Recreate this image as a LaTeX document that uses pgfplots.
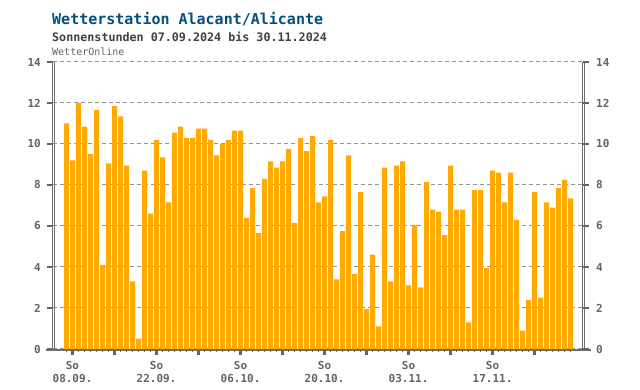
\documentclass[border=0pt]{standalone}
\usepackage{fontspec}
\setmainfont{DejaVu Sans Mono}
\setmonofont{DejaVu Sans Mono}
\usepackage{pgfplots}
\pgfplotsset{compat=1.18}
\usepackage{pgfplotstable}
\definecolor{barc}{RGB}{255,170,0}
\definecolor{ttl}{RGB}{0,80,128}
\definecolor{subc}{RGB}{64,64,64}
\definecolor{lab}{RGB}{100,100,100}
\definecolor{grd}{RGB}{150,150,150}
\definecolor{frm}{RGB}{110,110,110}

\pgfplotstableread{
d v
0 11.0
1 9.2
2 12.0
3 10.85
4 9.5
5 11.65
6 4.1
7 9.05
8 11.85
9 11.35
10 8.95
11 3.3
12 0.5
13 8.7
14 6.6
15 10.2
16 9.35
17 7.15
18 10.55
19 10.85
20 10.3
21 10.3
22 10.75
23 10.75
24 10.2
25 9.45
26 10.0
27 10.2
28 10.65
29 10.65
30 6.4
31 7.85
32 5.65
33 8.3
34 9.15
35 8.85
36 9.15
37 9.75
38 6.15
39 10.3
40 9.65
41 10.4
42 7.15
43 7.45
44 10.2
45 3.4
46 5.75
47 9.45
48 3.65
49 7.65
50 1.95
51 4.6
52 1.1
53 8.85
54 3.3
55 8.95
56 9.15
57 3.1
58 6.05
59 3.0
60 8.15
61 6.8
62 6.7
63 5.55
64 8.95
65 6.8
66 6.8
67 1.3
68 7.75
69 7.75
70 3.95
71 8.7
72 8.6
73 7.15
74 8.6
75 6.3
76 0.9
77 2.4
78 7.65
79 2.5
80 7.15
81 6.9
82 7.85
83 8.25
84 7.35
}\sun

\begin{document}
\begin{tikzpicture}[x=1pt,y=1pt]
\path[use as bounding box] (0,0) rectangle (640,390);
\node[anchor=base west, inner sep=0pt, text=ttl, font=\fontsize{15}{18}\selectfont\bfseries] at (52,365) {Wetterstation Alacant/Alicante};
\node[anchor=base west, inner sep=0pt, text=subc, font=\fontsize{11.7}{14}\selectfont\bfseries] at (52,348) {Sonnenstunden 07.09.2024 bis 30.11.2024};
\node[anchor=base west, inner sep=0pt, text=lab, font=\fontsize{10}{12}\selectfont] at (52,334) {WetterOnline};

\begin{axis}[
  at={(53pt,41pt)}, anchor=south west, scale only axis,
  width=530pt, height=287pt,
  xmin=-2.25, xmax=86.08, ymin=0, ymax=14,
  clip=false,
  axis line style={draw=none},
  ytick={0,2,...,14}, ytick pos=left,
  xtick={1,8,15,22,29,36,43,50,57,64,71,78},
  xticklabels={{So\\08.09.},{},{So\\22.09.},{},{So\\06.10.},{},{So\\20.10.},{},{So\\03.11.},{},{So\\17.11.},{}},
  minor xtick={0,...,84},
  xtick pos=bottom,
  tick align=outside,
  major tick length=6pt, minor tick length=3pt,
  major tick style={line width=2.4pt, draw=lab},
  minor tick style={line width=0.8pt, draw=lab},
  ymajorgrids,
  major grid style={dash pattern=on 4pt off 3pt, draw=grd, line width=1pt},
  /pgf/number format/assume math mode=true,
  yticklabel style={font=\fontsize{11}{13}\selectfont\bfseries, text=lab, inner sep=0pt, xshift=-6pt},
  xticklabel style={font=\fontsize{11}{13}\selectfont\bfseries, text=lab, align=center, inner sep=0pt, yshift=-6pt},
]
\addplot[ybar, bar width=5pt, fill=barc, draw=none, bar shift=0pt] table[x=d, y=v] {\sun};
\draw[frm, line width=2.5pt] ([xshift=-7pt, yshift=-1pt]rel axis cs:0,0) -- ([xshift=8pt, yshift=-1pt]rel axis cs:1,0);
\draw[frm, line width=0.8pt] ([xshift=-1pt]rel axis cs:0,0) -- ([xshift=-1pt]rel axis cs:0,1);
\draw[frm, line width=0.8pt] ([xshift=1pt]rel axis cs:0,0) -- ([xshift=1pt]rel axis cs:0,1);
\draw[frm, line width=0.8pt] ([xshift=-1pt]rel axis cs:1,0) -- ([xshift=-1pt]rel axis cs:1,1);
\draw[frm, line width=0.8pt] ([xshift=1pt]rel axis cs:1,0) -- ([xshift=1pt]rel axis cs:1,1);
\end{axis}

\begin{axis}[
  at={(53pt,41pt)}, anchor=south west, scale only axis,
  width=530pt, height=287pt,
  xmin=-2.25, xmax=86.08, ymin=0, ymax=14,
  axis line style={draw=none},
  xtick=\empty,
  ytick={0,2,...,14}, ytick pos=right, yticklabel pos=right,
  tick align=outside,
  major tick length=6pt,
  major tick style={line width=2.4pt, draw=lab},
  /pgf/number format/assume math mode=true,
  yticklabel style={font=\fontsize{11}{13}\selectfont\bfseries, text=lab, inner sep=0pt, xshift=7pt},
]
\end{axis}
\end{tikzpicture}
\end{document}
